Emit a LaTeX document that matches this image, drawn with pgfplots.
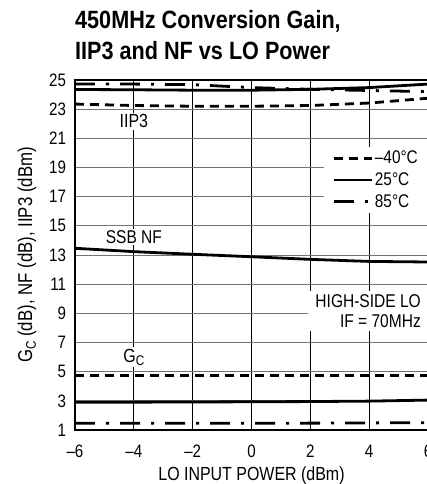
\documentclass[border=0pt]{standalone}
\usepackage{fontspec}
\setmainfont{Liberation Sans}[FakeStretch=0.84]
\newfontfamily\titlefont{Liberation Sans}[FakeStretch=0.865]
\usepackage{pgfplots}
\pgfplotsset{compat=1.18}
\newcommand\fs[1]{\fontsize{#1}{#1}\selectfont}
\newcommand\subC{\raisebox{-0.35ex}{\fs{14}C}}
\tikzset{
  dsh/.style={line width=2.8pt, dash pattern=on 9pt off 6pt},
  sld/.style={line width=2.8pt},
  dd/.style={line width=2.8pt, dash pattern=on 20pt off 11pt on 3pt off 11pt},
}
\begin{document}
\begin{tikzpicture}
\begin{axis}[
  scale only axis, width=353pt, height=350pt,
  xmin=-6, xmax=6, ymin=1, ymax=25,
  xtick={-6,-4,...,6}, xticklabels={–6,–4,–2,0,2,4,6},
  ytick={1,3,...,25},
  /pgf/number format/assume math mode=true,
  grid=major,
  major x grid style={black, line width=0.8pt},
  major y grid style={black!55, line width=0.8pt},
  major tick length=0pt,
  axis line style={line width=1.2pt},
  tick label style={font=\fs{18}},
  xticklabel style={anchor=base, yshift=-27pt},
  yticklabel style={anchor=east, xshift=-5.5pt},
  xlabel={LO INPUT POWER (dBm)},
  xlabel style={font=\fs{19}, at={(axis description cs:0.5,0)}, anchor=base, yshift=-50pt},
  ylabel={G\subC{} (dB), NF (dB), IIP3 (dBm)},
  ylabel style={font=\fs{20}, at={(axis description cs:-0.136,0.5)}, anchor=center},
  legend image code/.code={\draw[#1] (0pt,0pt) -- (38pt,0pt);},
  legend cell align=left,
  legend style={draw=none, fill=white, at={(axis cs:6,20.41)}, anchor=north east,
    font=\fs{18.3}, inner xsep=8pt, inner ysep=2pt, row sep=3.5pt},
]
% IIP3
\addplot[dsh, forget plot] coordinates {(-6,23.35) (-4,23.25) (-2,23.2) (0,23.2) (2,23.25) (4,23.42) (6,23.75)};
\addplot[sld, forget plot] coordinates {(-6,24.35) (-4,24.33) (-2,24.3) (0,24.3) (2,24.36) (4,24.48) (6,24.72)};
\addplot[dd, forget plot] coordinates {(-6,24.72) (-4,24.72) (-2,24.68) (-1,24.58) (0,24.48) (2,24.36) (4,24.28) (6,24.2)};
% NF
\addplot[sld, forget plot] coordinates {(-6,13.46) (-4,13.23) (-2,13.05) (0,12.88) (2,12.7) (4,12.56) (6,12.52)};
% Gc
\addplot[dsh, forget plot] coordinates {(-6,4.76) (-2,4.76) (2,4.76) (6,4.76)};
\addplot[sld, forget plot] coordinates {(-6,2.9) (-2,2.92) (2,2.95) (4,2.98) (6,3.05)};
\addplot[dd, forget plot] coordinates {(-6,1.46) (-2,1.46) (2,1.47) (6,1.5)};
\addlegendimage{dsh}\addlegendentry{–40°C}
\addlegendimage{sld}\addlegendentry{25°C}
\addlegendimage{dd}\addlegendentry{85°C}
\node[fill=white, inner sep=1.5pt, anchor=base, font=\fs{19}] at (axis cs:-4,21.71) {IIP3};
\node[fill=white, inner sep=1.5pt, anchor=base, font=\fs{18.5}] at (axis cs:-4,13.82) {SSB NF};
\node[fill=white, inner sep=1.5pt, anchor=base, font=\fs{19}] at (axis cs:-4,5.66) {G\subC};
\node[fill=white, inner xsep=7pt, inner ysep=3pt, anchor=east, align=right, font=\fontsize{18.5}{20}\selectfont] at (axis cs:6,9.16) {HIGH-SIDE LO\\IF = 70MHz};
\end{axis}
\node[anchor=base west, inner sep=0pt, font=\titlefont\bfseries\fs{25}] at ([yshift=51pt]current axis.north west) {450MHz Conversion Gain,};
\node[anchor=base west, inner sep=0pt, font=\titlefont\bfseries\fs{25}] at ([yshift=20.5pt]current axis.north west) {IIP3 and NF vs LO Power};
\pgfresetboundingbox
\useasboundingbox ([xshift=-75pt,yshift=-54pt]current axis.south west) rectangle ([xshift=-2pt,yshift=80pt]current axis.north east);
\end{tikzpicture}
\end{document}
